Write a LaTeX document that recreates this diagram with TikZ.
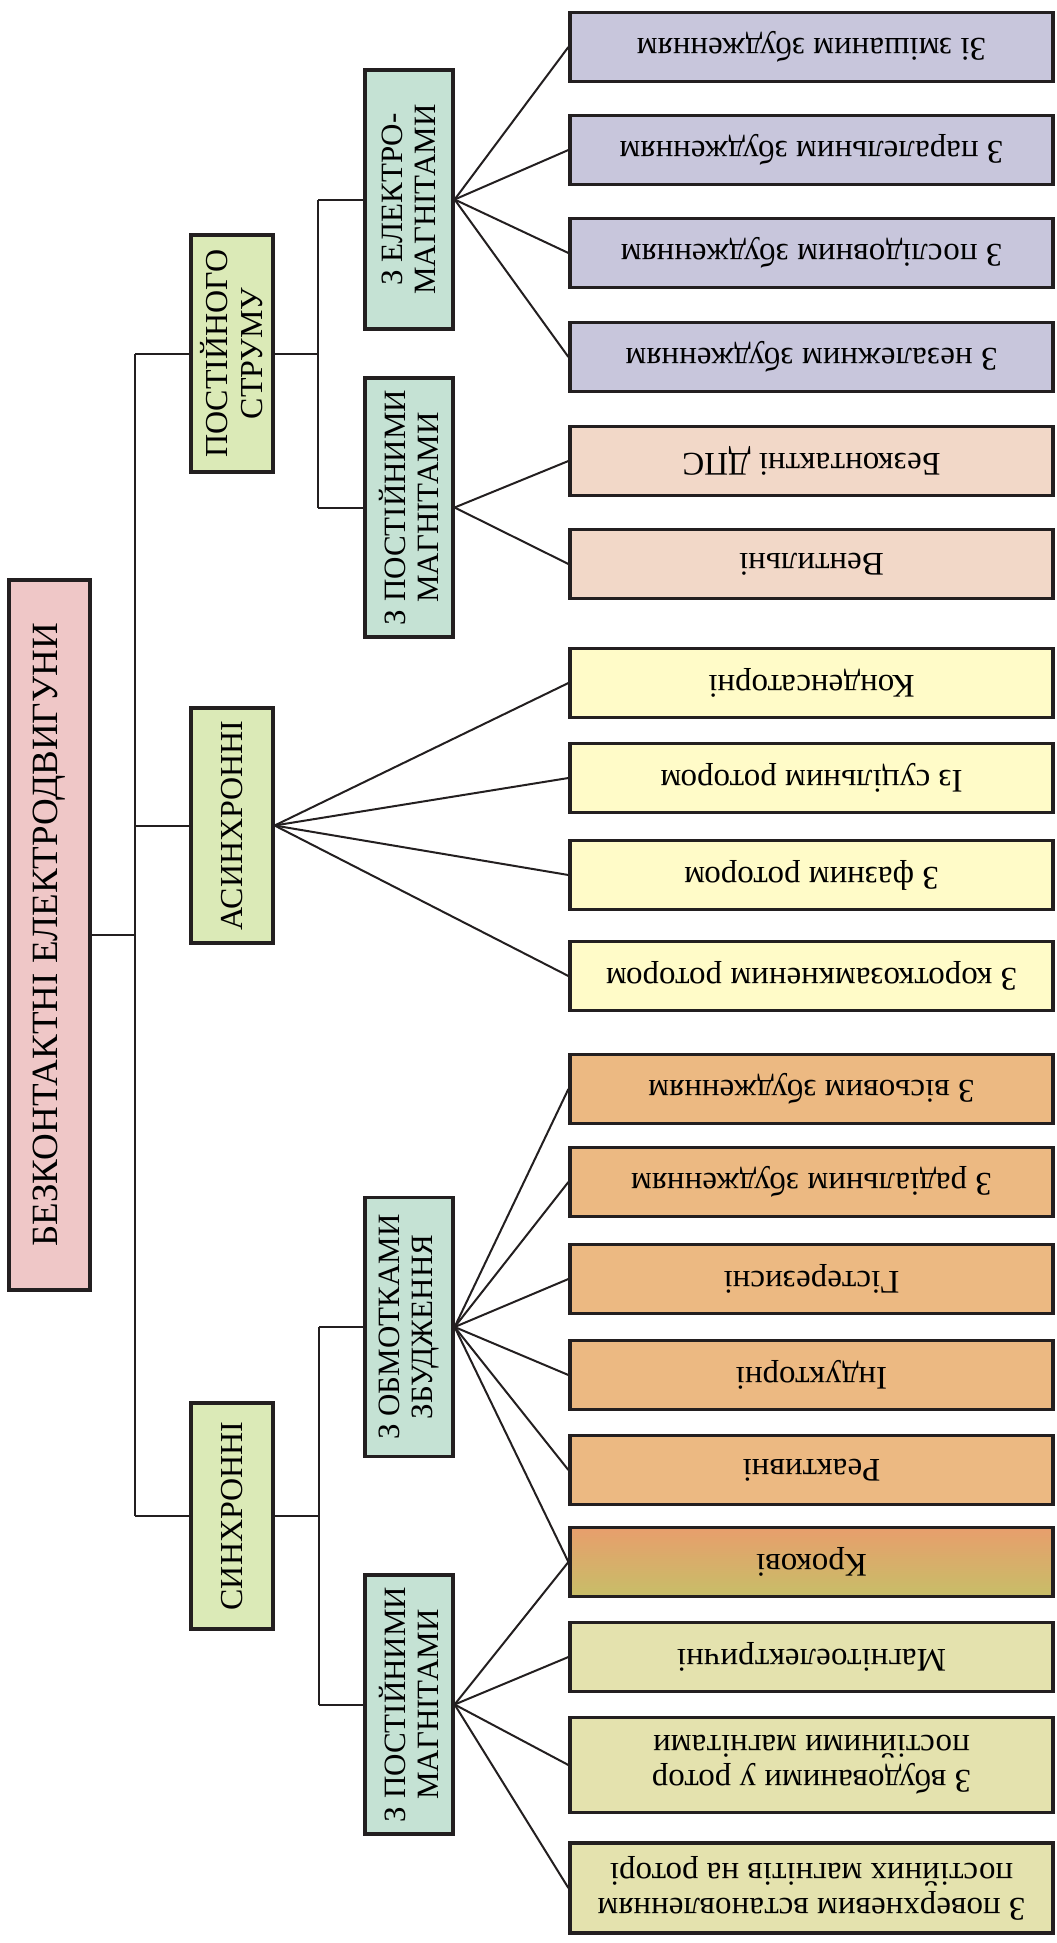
\documentclass[tikz,border=0pt]{standalone}
\usepackage{fontspec}
\setmainfont{Liberation Serif}
\definecolor{outline}{RGB}{35,31,32}
\definecolor{rootpink}{RGB}{239,199,199}
\definecolor{typegreen}{RGB}{219,234,183}
\definecolor{subgreen}{RGB}{197,226,212}
\definecolor{emlilac}{RGB}{200,198,220}
\definecolor{pmpeach}{RGB}{242,216,200}
\definecolor{asyellow}{RGB}{255,251,200}
\definecolor{wdorange}{RGB}{236,185,130}
\definecolor{steptop}{RGB}{232,158,108}
\definecolor{stepbot}{RGB}{199,190,104}
\definecolor{pmkhaki}{RGB}{228,226,174}

\begin{document}
\begin{tikzpicture}[x=0.5pt,y=-0.5pt]
  \useasboundingbox (0,0) rectangle (1056,1943);
  \tikzset{B/.style={draw=outline, line width=1.6pt, inner sep=0pt, align=center, font=\fontsize{16.5}{17.5}\selectfont}}
  \tikzset{R/.style={B, fill=rootpink, rotate=90, minimum width=355pt, minimum height=40.5pt, font=\fontsize{18.5}{20}\selectfont}}
  \tikzset{T/.style={B, fill=typegreen, rotate=90, minimum height=41pt, font=\fontsize{16}{17.5}\selectfont}}
  \tikzset{S/.style={B, fill=subgreen, rotate=90, minimum width=129.5pt, minimum height=44pt, font=\fontsize{15.5}{16.7}\selectfont}}
  \tikzset{L/.style={B, rotate=180, minimum width=241.5pt, minimum height=34.5pt}}
  \tikzset{C/.style={draw=outline, line width=1pt}}

  % rotated nodes: .north is the left side, .south the right side (rotate=90),
  % .east is the left side (rotate=180)
  \node [R] (root) at (49.5,935) {БЕЗКОНТАКТНІ ЕЛЕКТРОДВИГУНИ};

  \node [T, minimum width=118.5pt] (dc)    at (232,353.5)  {ПОСТІЙНОГО\\СТРУМУ};
  \node [T, minimum width=117.5pt] (async) at (232,825.5)  {АСИНХРОННІ};
  \node [T, minimum width=113pt]   (sync)  at (232,1516)   {СИНХРОННІ};

  \node [S] (dcem) at (409,199.5)  {З ЕЛЕКТРО-\\МАГНІТАМИ};
  \node [S] (dcpm) at (409,507.5)  {З ПОСТІЙНИМИ\\МАГНІТАМИ};
  \node [S] (sywd) at (409,1327)   {З ОБМОТКАМИ\\ЗБУДЖЕННЯ};
  \node [S] (sypm) at (409,1704.5) {З ПОСТІЙНИМИ\\МАГНІТАМИ};

  \node [L, fill=emlilac]  (l1)  at (811.5,47)   {Зі змішаним збудженням};
  \node [L, fill=emlilac]  (l2)  at (811.5,150)  {З паралельним збудженням};
  \node [L, fill=emlilac]  (l3)  at (811.5,253)  {З послідовним збудженням};
  \node [L, fill=emlilac]  (l4)  at (811.5,357)  {З незалежним збудженням};
  \node [L, fill=pmpeach]  (l5)  at (811.5,461)  {Безконтактні ДПС};
  \node [L, fill=pmpeach]  (l6)  at (811.5,564)  {Вентильні};
  \node [L, fill=asyellow] (l7)  at (811.5,683)  {Конденсаторні};
  \node [L, fill=asyellow] (l8)  at (811.5,778)  {Із суцільним ротором};
  \node [L, fill=asyellow] (l9)  at (811.5,875)  {З фазним ротором};
  \node [L, fill=asyellow] (l10) at (811.5,976)  {З короткозамкненим ротором};
  \node [L, fill=wdorange] (l11) at (811.5,1089) {З вісьовим збудженням};
  \node [L, fill=wdorange] (l12) at (811.5,1182) {З радіальним збудженням};
  \node [L, fill=wdorange] (l13) at (811.5,1279) {Гістерезисні};
  \node [L, fill=wdorange] (l14) at (811.5,1375) {Індукторні};
  \node [L, fill=wdorange] (l15) at (811.5,1470) {Реактивні};
  \node [L, top color=steptop, bottom color=stepbot] (l16) at (811.5,1562) {Крокові};
  \node [L, fill=pmkhaki]  (l17) at (811.5,1657) {Магнітоелектричні};
  \node [L, fill=pmkhaki, minimum height=47.5pt] (l18) at (811.5,1765) {З вбудованими у ротор\\постійними магнітами};
  \node [L, fill=pmkhaki, minimum height=45pt]   (l19) at (811.5,1888) {З поверхневим встановленням\\постійних магнітів на роторі};

  \coordinate (trunk)   at (135,935);
  \coordinate (dcbus)   at (318,353.5);
  \coordinate (syncbus) at (319,1516);

  \draw [C] (root.south) -- (trunk);
  \draw [C] (dc.north -| trunk) -- (sync.north -| trunk);
  \foreach \to in {dc,async,sync}
    \draw [C] (\to.north -| trunk) -- (\to.north);

  \draw [C] (dc.south) -- (dcbus);
  \draw [C] (dcem.north -| dcbus) -- (dcpm.north -| dcbus);
  \draw [C] (sync.south) -- (syncbus);
  \draw [C] (sywd.north -| syncbus) -- (sypm.north -| syncbus);
  \foreach \to in {dcem,dcpm}
    \draw [C] (\to.north -| dcbus) -- (\to.north);
  \foreach \to in {sywd,sypm}
    \draw [C] (\to.north -| syncbus) -- (\to.north);

  \foreach \from/\to in {dcem/l1,dcem/l2,dcem/l3,dcem/l4,dcpm/l5,dcpm/l6,
                         sywd/l11,sywd/l12,sywd/l13,sywd/l14,sywd/l15,sywd/l16,
                         sypm/l16,sypm/l17,sypm/l18,sypm/l19}
    \draw [C] (\from.south) -- (\to.east);
  \foreach \to in {l7,l8,l9,l10}
    \draw [C] (async.south) -- (\to.east);
\end{tikzpicture}
\end{document}
